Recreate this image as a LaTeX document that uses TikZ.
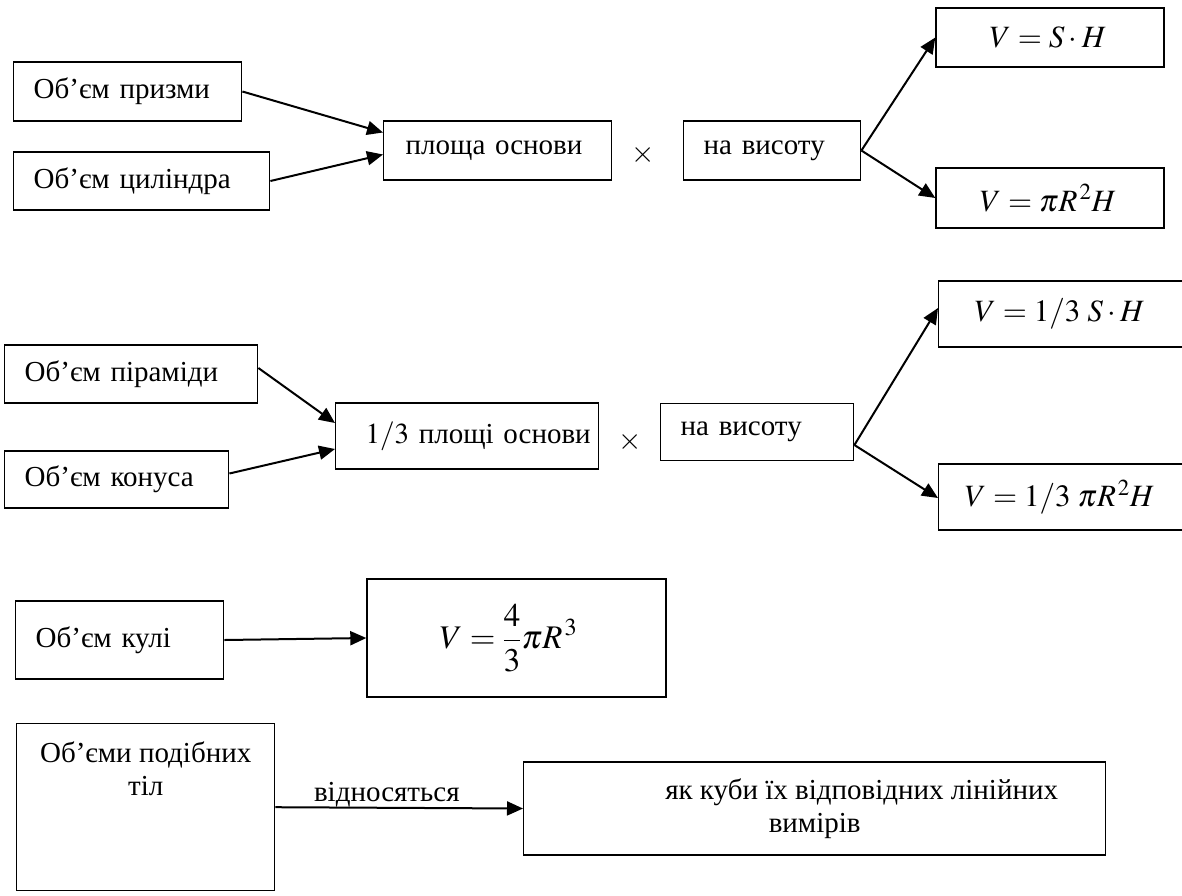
\documentclass[tikz,border=0pt]{standalone}
\usepackage{mathptmx}
\usepackage{fontspec}
\setmainfont{Liberation Serif}
\usetikzlibrary{arrows.meta,calc}
\begin{document}
\begin{tikzpicture}[x=1pt,y=-1pt,
  box/.style={draw, line width=1.4pt, inner ysep=0pt, inner xsep=20pt, font=\fontsize{29}{33}\selectfont, align=left},
  fbox/.style={draw, line width=1.4pt, inner sep=0pt, font=\fontsize{31}{35}\selectfont, align=center},
  arr/.style={line width=2pt, -{Triangle[length=16pt,width=14pt]}},
  timesign/.style={font=\fontsize{30}{34}\selectfont},
  lbl/.style={font=\fontsize{29}{33}\selectfont}]
\useasboundingbox (0,0) rectangle (1182,895);
\clip (0,0) rectangle (1182,895);

% top group
\node[box, text width=188pt, minimum height=59pt, anchor=west] (A1) at (13,91.5) {Об’єм призми};
\node[box, text width=216pt, minimum height=58pt, anchor=west] (A2) at (13,181) {Об’єм циліндра};
\node[box, inner xsep=22pt, text width=184pt, minimum height=59pt, anchor=west] (B) at (383,150.5) {площа основи};
\node[timesign] (X1) at (643,155) {$\times$};
\node[box, text width=137pt, minimum height=59pt, anchor=west] (C) at (683,150.5) {на висоту};
\node[fbox, minimum width=228pt, minimum height=59pt] (D1) at (1050,37.5) {$V = S\cdot H$\hspace{4pt}};
\node[fbox, minimum width=228pt, minimum height=60pt] (D2) at (1050,198) {$V = \pi R^{\kern2pt 2} H$\hspace{4pt}};

\draw[arr] (A1.east) -- ($(B.west)+(0,-18)$);
\draw[arr] (A2.east) -- ($(B.west)+(0,4)$);
\draw[arr] (C.east) -- (D1.west);
\draw[arr] (C.east) -- (D2.west);

% middle group
\node[box, text width=213pt, minimum height=58pt, anchor=west] (E1) at (4,374) {Об’єм піраміди};
\node[box, text width=184pt, minimum height=57pt, anchor=west] (E2) at (4,479.5) {Об’єм конуса};
\node[box, inner xsep=30pt, text width=203pt, minimum height=66pt, anchor=west] (F) at (335,436) {\mbox{$1/3$ площі основи}};
\node[timesign] (X2) at (630,442) {$\times$};
\node[box, text width=153pt, minimum height=57pt, anchor=west] (G) at (660,432) {на висоту};
\node[fbox, minimum width=262pt, minimum height=66pt, anchor=west] (H1) at (938,314) {$V = 1/3\;S\cdot H$\hspace{20pt}};
\node[fbox, minimum width=262pt, minimum height=66pt, anchor=west] (H2) at (938,497) {$V = 1/3\;\pi R^{\kern2pt 2} H$\hspace{20pt}};

\draw[arr] ($(E1.east)+(0,-6)$) -- ($(F.west)+(0,-13)$);
\draw[arr] ($(E2.east)+(0,-6)$) -- ($(F.west)+(0,13)$);
\draw[arr] ($(G.east)+(0,13)$) -- ($(H1.west)+(0,-6)$);
\draw[arr] ($(G.east)+(0,13)$) -- ($(H2.west)+(0,1)$);

% sphere
\node[box, text width=168pt, minimum height=78pt, anchor=west] (K) at (15,640) {Об’єм кулі};
\node[fbox, font=\fontsize{33}{37}\selectfont, minimum width=299pt, minimum height=118pt] (L) at (516.5,638) {$\displaystyle V = \frac{4}{3}\pi R^{\kern2pt 3}$\hspace{16pt}};
\draw[arr] (K.east) -- (L.west);

% similar bodies
\node[box, minimum width=258pt, minimum height=167pt, anchor=north west,
  label={[anchor=north, align=center, lbl, yshift=-15pt]north:Об’єми подібних\\тіл}] (M) at (16,723) {};
\node[fbox, font=\fontsize{29}{33}\selectfont, minimum width=582pt, minimum height=93pt, anchor=west] (N) at (523,808.5) {\hspace*{94pt}як куби їх відповідних лінійних\\вимірів};
\draw[arr] (M.east) -- node[lbl, above, pos=0.45, yshift=-4pt] (R) {відносяться} (N.west);
\end{tikzpicture}
\end{document}
